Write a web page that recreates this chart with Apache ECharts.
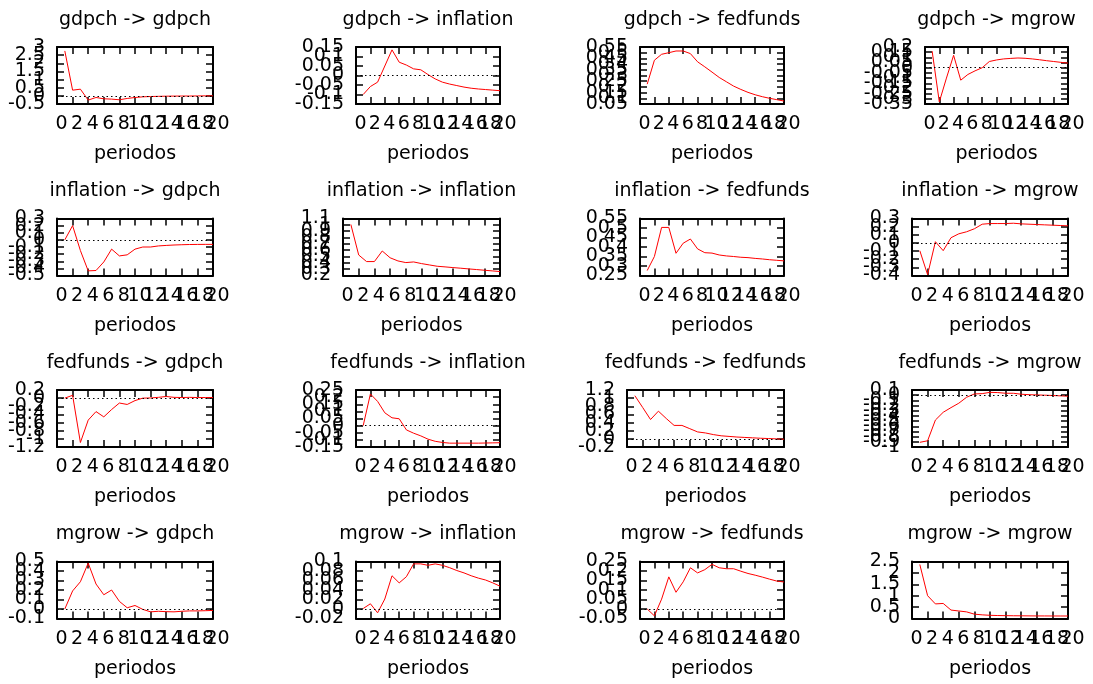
<!DOCTYPE html>
<html><head><meta charset="utf-8">
<script src="https://cdn.jsdelivr.net/npm/echarts@6/dist/echarts.min.js"></script>
<style>html,body{margin:0;padding:0;background:#fff}#c{width:1093px;height:684px}</style>
</head><body><div id="c"></div>
<script>
// ---------- data ----------
const periods = [1,2,3,4,5,6,7,8,9,10,11,12,13,14,15,16,17,18,19,20];
const xTickMin = 0, xTickMax = 20, xTickStep = 2;
const xName = 'periodos';
const titles = [
  'gdpch -> gdpch','gdpch -> inflation','gdpch -> fedfunds','gdpch -> mgrow',
  'inflation -> gdpch','inflation -> inflation','inflation -> fedfunds','inflation -> mgrow',
  'fedfunds -> gdpch','fedfunds -> inflation','fedfunds -> fedfunds','fedfunds -> mgrow',
  'mgrow -> gdpch','mgrow -> inflation','mgrow -> fedfunds','mgrow -> mgrow'
];
const gdpch_gdpch = [2.76,0.35,0.41,-0.26,-0.1,-0.18,-0.2,-0.24,-0.16,-0.1,-0.06,-0.04,-0.03,-0.02,-0.015,-0.01,-0.01,-0.005,0,0];
const gdpch_inflation = [-0.1,-0.058,-0.035,0.05,0.135,0.07,0.055,0.035,0.03,0.005,-0.018,-0.035,-0.045,-0.053,-0.061,-0.067,-0.071,-0.074,-0.077,-0.08];
const gdpch_fedfunds = [0.224,0.434,0.486,0.5,0.515,0.515,0.492,0.42,0.376,0.33,0.283,0.245,0.207,0.178,0.152,0.131,0.114,0.1,0.088,0.076];
const gdpch_mgrow = [0.16,-0.33,-0.1,0.12,-0.12,-0.065,-0.03,0.0,0.06,0.075,0.085,0.09,0.094,0.091,0.085,0.077,0.068,0.06,0.052,0.045];
const inflation_gdpch = [0,0.2,-0.15,-0.435,-0.43,-0.31,-0.13,-0.225,-0.21,-0.13,-0.1,-0.1,-0.085,-0.078,-0.072,-0.068,-0.065,-0.064,-0.063,-0.063];
const inflation_inflation = [1.006,0.524,0.42,0.42,0.587,0.48,0.43,0.404,0.414,0.388,0.367,0.346,0.336,0.325,0.315,0.304,0.294,0.283,0.273,0.262];
const inflation_fedfunds = [0.276,0.35,0.503,0.503,0.367,0.42,0.442,0.39,0.37,0.368,0.358,0.353,0.35,0.346,0.344,0.34,0.337,0.333,0.33,0.327];
const inflation_mgrow = [-0.095,-0.39,0.015,-0.095,0.064,0.112,0.137,0.174,0.23,0.238,0.238,0.238,0.242,0.234,0.23,0.226,0.222,0.218,0.214,0.21];
const fedfunds_gdpch = [0,0.07,-1.09,-0.54,-0.33,-0.46,-0.28,-0.12,-0.155,-0.06,0,0.005,0.02,0.04,0.02,0.015,0.02,0.015,0.015,0.015];
const fedfunds_inflation = [0,0.222,0.17,0.09,0.055,0.048,-0.03,-0.053,-0.072,-0.095,-0.11,-0.118,-0.123,-0.123,-0.123,-0.123,-0.123,-0.122,-0.121,-0.12];
const fedfunds_fedfunds = [1.06,0.77,0.475,0.68,0.5,0.33,0.33,0.25,0.17,0.145,0.105,0.075,0.06,0.045,0.035,0.025,0.015,0.008,0.0,-0.01];
const fedfunds_mgrow = [-0.91,-0.88,-0.48,-0.33,-0.24,-0.155,-0.04,0.024,0.03,0.055,0.05,0.037,0.037,0.018,0.01,0.005,0,-0.006,-0.013,-0.02];
const mgrow_gdpch = [0,0.19,0.287,0.483,0.263,0.15,0.2,0.08,0.013,0.037,-0.004,-0.03,-0.024,-0.028,-0.03,-0.024,-0.02,-0.02,-0.018,-0.015];
const mgrow_inflation = [0.001,0.011,-0.008,0.021,0.07,0.055,0.068,0.095,0.095,0.092,0.095,0.092,0.087,0.081,0.076,0.07,0.065,0.061,0.055,0.048];
const mgrow_fedfunds = [0,-0.036,0.052,0.169,0.088,0.143,0.217,0.19,0.207,0.235,0.217,0.212,0.212,0.199,0.187,0.178,0.168,0.157,0.147,0.142];
const mgrow_mgrow = [2.37,1.0,0.64,0.66,0.37,0.33,0.29,0.19,0.16,0.14,0.13,0.125,0.12,0.118,0.115,0.113,0.112,0.111,0.11,0.11];

const yTickMin  = [-0.5,-0.15,0.05,-0.35, -0.5,0.2,0.25,-0.4, -1.2,-0.15,-0.2,-1, -0.1,-0.02,-0.05,0];
const yTickMax  = [3,0.15,0.55,0.2, 0.3,1.1,0.55,0.3, 0.2,0.25,1.2,0.1, 0.5,0.1,0.25,2.5];
const yTickStep = [0.5,0.05,0.05,0.05, 0.1,0.1,0.05,0.1, 0.2,0.05,0.2,0.1, 0.1,0.02,0.05,0.5];

const seriesValues = [
  gdpch_gdpch, gdpch_inflation, gdpch_fedfunds, gdpch_mgrow,
  inflation_gdpch, inflation_inflation, inflation_fedfunds, inflation_mgrow,
  fedfunds_gdpch, fedfunds_inflation, fedfunds_fedfunds, fedfunds_mgrow,
  mgrow_gdpch, mgrow_inflation, mgrow_fedfunds, mgrow_mgrow
];

// ---------- layout ----------
const boxLeft = [57,356,640,925, 57,343,640,912, 57,356,627,912, 57,356,640,912];
const boxRight = [213,500,784,1068];
const rowTop = [47,218.5,390,561.5];
const boxH = 57;
const FONT = 'DejaVu Sans';
const FS = 19;

function endsOnly(mn, mx){
  return function(v){
    return (Math.abs(v-mn)<1e-9 || Math.abs(v-mx)<1e-9) ? String(Math.round(v*1e6)/1e6) : '';
  };
}

const grids=[], xAxes=[], yAxes=[], series=[], graphics=[];
for (let i=0;i<16;i++){
  const r=Math.floor(i/4), c=i%4;
  const L=boxLeft[i], R=boxRight[c], T=rowTop[r];
  grids.push({left:L, top:T, width:R-L, height:boxH, outerBoundsMode:'none', containLabel:false});
  const lineSt={show:true,onZero:false,lineStyle:{color:'#000',width:2}};
  const tickSt={show:true,inside:true,length:7,lineStyle:{color:'#000',width:1.5}};
  const xLab={show:true,color:'#000',fontFamily:FONT,fontSize:FS,margin:11,hideOverlap:false,padding:[0,0,0,9]};
  const yLab={show:true,color:'#000',fontFamily:FONT,fontSize:FS,margin:12,hideOverlap:false};
  const xBase={gridIndex:i,type:'value',min:xTickMin,max:xTickMax,interval:xTickStep,splitLine:{show:false}};
  const yBase={gridIndex:i,type:'value',min:yTickMin[i],max:yTickMax[i],interval:yTickStep[i],splitLine:{show:false}};
  // x: main bottom (inner labels), top mirror, bottom extra (end labels)
  xAxes.push(Object.assign({},xBase,{position:'bottom',axisLine:lineSt,axisTick:tickSt,
    axisLabel:Object.assign({},xLab,{showMinLabel:false,showMaxLabel:false}),
    name:xName,nameLocation:'middle',nameGap:41,nameTextStyle:{color:'#000',fontFamily:FONT,fontSize:FS}}));
  xAxes.push(Object.assign({},xBase,{position:'top',axisLine:lineSt,axisTick:tickSt,axisLabel:{show:false}}));
  xAxes.push(Object.assign({},xBase,{position:'bottom',axisLine:{show:false},axisTick:{show:false},
    axisLabel:Object.assign({},xLab,{showMinLabel:true,showMaxLabel:true,formatter:endsOnly(xTickMin,xTickMax)})}));
  // y: main left (inner labels), right mirror, left extra (end labels)
  yAxes.push(Object.assign({},yBase,{position:'left',axisLine:lineSt,axisTick:tickSt,
    axisLabel:Object.assign({},yLab,{showMinLabel:false,showMaxLabel:false})}));
  yAxes.push(Object.assign({},yBase,{position:'right',axisLine:lineSt,axisTick:tickSt,axisLabel:{show:false}}));
  yAxes.push(Object.assign({},yBase,{position:'left',axisLine:{show:false},axisTick:{show:false},
    axisLabel:Object.assign({},yLab,{showMinLabel:true,showMaxLabel:true,formatter:endsOnly(yTickMin[i],yTickMax[i])})}));
  const s={type:'line',xAxisIndex:3*i,yAxisIndex:3*i,showSymbol:false,symbol:'none',
    data:periods.map((p,k)=>[p,seriesValues[i][k]]),
    lineStyle:{color:'#ff0000',width:1},itemStyle:{color:'#ff0000'},animation:false,silent:true,z:3};
  if (yTickMin[i]<0 && yTickMax[i]>0){
    s.markLine={silent:true,symbol:['none','none'],label:{show:false},animation:false,
      lineStyle:{type:[1.5,3],color:'#000',width:1},data:[{yAxis:0}]};
  }
  series.push(s);
  graphics.push({type:'text',x:(L+R)/2,y:T-27,style:{text:titles[i],fill:'#000',
    font:FS+'px "'+FONT+'"',textAlign:'center',textVerticalAlign:'middle'}});
}
const chart=echarts.init(document.getElementById('c'),null,{renderer:'canvas'});
chart.setOption({animation:false,backgroundColor:'#fff',grid:grids,xAxis:xAxes,yAxis:yAxes,series:series,graphic:graphics});
</script></body></html>
